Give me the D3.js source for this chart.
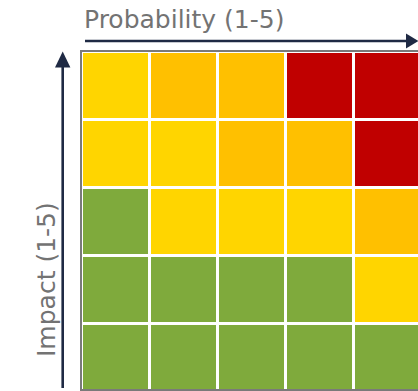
<!DOCTYPE html>
<html>
<head>
<meta charset="utf-8">
<script src="https://cdn.jsdelivr.net/npm/d3@7"></script>
<style>
  html, body { margin: 0; padding: 0; background: #fff; overflow: hidden; }
  svg { display: block; }
</style>
</head>
<body>
<svg id="chart" width="418" height="391"></svg>
<script>
// Risk matrix: probability along the top, impact up the side.
const probability = [1, 2, 3, 4, 5];
const impact = [5, 4, 3, 2, 1];           // top row first
const levels = ["low", "medium", "high", "critical"];
const levelColors = ["#7FAA3C", "#FFD500", "#FFC000", "#C00000"];

// Rating for each cell, one array per impact row (top = impact 5).
const ratingImpact5 = ["medium", "high", "high", "critical", "critical"];
const ratingImpact4 = ["medium", "medium", "high", "high", "critical"];
const ratingImpact3 = ["low", "medium", "medium", "medium", "high"];
const ratingImpact2 = ["low", "low", "low", "low", "medium"];
const ratingImpact1 = ["low", "low", "low", "low", "low"];
const ratings = [ratingImpact5, ratingImpact4, ratingImpact3, ratingImpact2, ratingImpact1];

const xLabel = "Probability (1-5)";
const yLabel = "Impact (1-5)";

const svg = d3.select("#chart");
const gap = 3;
const navy = "#1F2A44";
const labelGray = "#737373";

const x = d3.scaleBand().domain(probability).range([81.5, 421.5]);
const y = d3.scaleBand().domain(impact).range([51.5, 391.5]);
const color = d3.scaleOrdinal().domain(levels).range(levelColors);

const cells = impact.flatMap((imp, r) =>
  probability.map((p, c) => ({ p, imp, level: ratings[r][c] })));

svg.append("g")
  .selectAll("rect")
  .data(cells)
  .join("rect")
  .attr("x", d => x(d.p) + gap / 2)
  .attr("y", d => y(d.imp) + gap / 2)
  .attr("width", x.bandwidth() - gap)
  .attr("height", y.bandwidth() - gap)
  .attr("fill", d => color(d.level));

// grey frame around the grid
svg.append("rect")
  .attr("x", 81)
  .attr("y", 51)
  .attr("width", 360)
  .attr("height", 339)
  .attr("fill", "none")
  .attr("stroke", "#7A7A7A")
  .attr("stroke-width", 2);

// horizontal arrow (probability)
svg.append("line")
  .attr("x1", 85).attr("y1", 41)
  .attr("x2", 407).attr("y2", 41)
  .attr("stroke", navy).attr("stroke-width", 2.6);
svg.append("path")
  .attr("d", "M406,33.5 L418.5,41 L406,48.5 Z")
  .attr("fill", navy);

// vertical arrow (impact)
svg.append("line")
  .attr("x1", 62.7).attr("y1", 66)
  .attr("x2", 62.7).attr("y2", 388)
  .attr("stroke", navy).attr("stroke-width", 2.6);
svg.append("path")
  .attr("d", "M55,67.5 L62.7,51.5 L70.4,67.5 Z")
  .attr("fill", navy);

// axis titles
svg.append("text")
  .attr("x", 84)
  .attr("y", 27.5)
  .attr("font-family", "DejaVu Sans, Verdana, sans-serif")
  .attr("font-size", 25)
  .attr("fill", labelGray)
  .text(xLabel);

svg.append("text")
  .attr("transform", "translate(54.5,357) rotate(-90)")
  .attr("font-family", "DejaVu Sans, Verdana, sans-serif")
  .attr("font-size", 25)
  .attr("fill", labelGray)
  .text(yLabel);
</script>
</body>
</html>
